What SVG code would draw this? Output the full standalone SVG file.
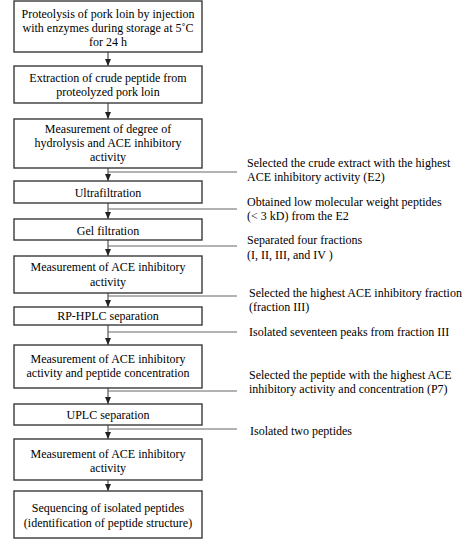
<svg xmlns="http://www.w3.org/2000/svg" width="474" height="539" viewBox="0 0 474 539">
<defs>
<style>
.box{fill:#fff;stroke:#3a3a3a;stroke-width:1.4}
.t{font-family:"Liberation Serif","Times New Roman",serif;font-size:12px;fill:#000;text-anchor:middle}
.s{font-family:"Liberation Serif","Times New Roman",serif;font-size:12px;fill:#000}
.c{stroke:#333;stroke-width:1;fill:none}
.side{stroke:#666;stroke-width:1;fill:none}
</style>
<marker id="ah" markerWidth="7" markerHeight="6" refX="7" refY="3" orient="auto" markerUnits="userSpaceOnUse" viewBox="0 0 7 6">
<path d="M0,0 L7,3 L0,6 Z" fill="#222"/>
</marker>
</defs>
<rect width="474" height="539" fill="#fff"/>
<g id="connectors">
<line class="c" x1="108" y1="52" x2="108" y2="66" marker-end="url(#ah)"/>
<line class="c" x1="108" y1="103" x2="108" y2="119" marker-end="url(#ah)"/>
<line class="c" x1="108" y1="168" x2="108" y2="181" marker-end="url(#ah)"/>
<line class="c" x1="108" y1="203" x2="108" y2="219" marker-end="url(#ah)"/>
<line class="c" x1="108" y1="240" x2="108" y2="256" marker-end="url(#ah)"/>
<line class="c" x1="108" y1="293" x2="108" y2="307" marker-end="url(#ah)"/>
<line class="c" x1="108" y1="325" x2="108" y2="345" marker-end="url(#ah)"/>
<line class="c" x1="108" y1="388" x2="108" y2="404" marker-end="url(#ah)"/>
<line class="c" x1="108" y1="425" x2="108" y2="439" marker-end="url(#ah)"/>
<line class="c" x1="108" y1="480" x2="108" y2="491" marker-end="url(#ah)"/>
<line class="side" x1="108" y1="172" x2="237" y2="172"/>
<line class="side" x1="108" y1="209" x2="237" y2="209"/>
<line class="side" x1="108" y1="246" x2="237" y2="246"/>
<line class="side" x1="108" y1="296" x2="237" y2="296"/>
<line class="side" x1="108" y1="332" x2="237" y2="332"/>
<line class="side" x1="108" y1="391" x2="237" y2="391"/>
<line class="side" x1="108" y1="429" x2="237" y2="429"/>
</g>
<g id="n1"><rect class="box" x="14" y="1" width="188" height="51"/>
<text class="t" x="108" y="18">Proteolysis of pork loin by injection</text>
<text class="t" x="108" y="32">with enzymes during storage at 5˚C</text>
<text class="t" x="108" y="46">for 24 h</text></g>
<g id="n2"><rect class="box" x="14" y="66" width="188" height="37"/>
<text class="t" x="108" y="82">Extraction of crude peptide from</text>
<text class="t" x="108" y="96">proteolyzed pork loin</text></g>
<g id="n3"><rect class="box" x="14" y="119" width="188" height="49"/>
<text class="t" x="108" y="133">Measurement of degree of</text>
<text class="t" x="108" y="147">hydrolysis and ACE inhibitory</text>
<text class="t" x="108" y="161">activity</text></g>
<g id="n4"><rect class="box" x="14" y="181" width="188" height="22"/>
<text class="t" x="108" y="197">Ultrafiltration</text></g>
<g id="n5"><rect class="box" x="14" y="219" width="188" height="21"/>
<text class="t" x="108" y="235">Gel filtration</text></g>
<g id="n6"><rect class="box" x="14" y="256" width="188" height="37"/>
<text class="t" x="108" y="271">Measurement of ACE inhibitory</text>
<text class="t" x="108" y="286">activity</text></g>
<g id="n7"><rect class="box" x="14" y="307" width="188" height="18"/>
<text class="t" x="108" y="320">RP-HPLC separation</text></g>
<g id="n8"><rect class="box" x="14" y="345" width="188" height="43"/>
<text class="t" x="108" y="363">Measurement of ACE inhibitory</text>
<text class="t" x="108" y="377">activity and peptide concentration</text></g>
<g id="n9"><rect class="box" x="14" y="404" width="188" height="21"/>
<text class="t" x="108" y="419">UPLC separation</text></g>
<g id="n10"><rect class="box" x="14" y="439" width="188" height="41"/>
<text class="t" x="108" y="458">Measurement of ACE inhibitory</text>
<text class="t" x="108" y="472">activity</text></g>
<g id="n11"><rect class="box" x="14" y="491" width="188" height="47"/>
<text class="t" x="108" y="512">Sequencing of isolated peptides</text>
<text class="t" x="108" y="527">(identification of peptide structure)</text></g>
<g id="labels">
<text class="s" x="247" y="167">Selected the crude extract with the highest</text>
<text class="s" x="247" y="181">ACE inhibitory activity (E2)</text>
<text class="s" x="247" y="206">Obtained low molecular weight peptides</text>
<text class="s" x="247" y="220">(&lt; 3 kD) from the E2</text>
<text class="s" x="247" y="244">Separated four fractions</text>
<text class="s" x="247" y="259">(I, II, III, and IV )</text>
<text class="s" x="249" y="297">Selected the highest ACE inhibitory fraction</text>
<text class="s" x="249" y="311">(fraction III)</text>
<text class="s" x="249" y="336">Isolated seventeen peaks from fraction III</text>
<text class="s" x="249" y="379">Selected the peptide with the highest ACE</text>
<text class="s" x="249" y="393">inhibitory activity  and concentration (P7)</text>
<text class="s" x="250" y="435">Isolated two peptides</text>
</g>
</svg>
